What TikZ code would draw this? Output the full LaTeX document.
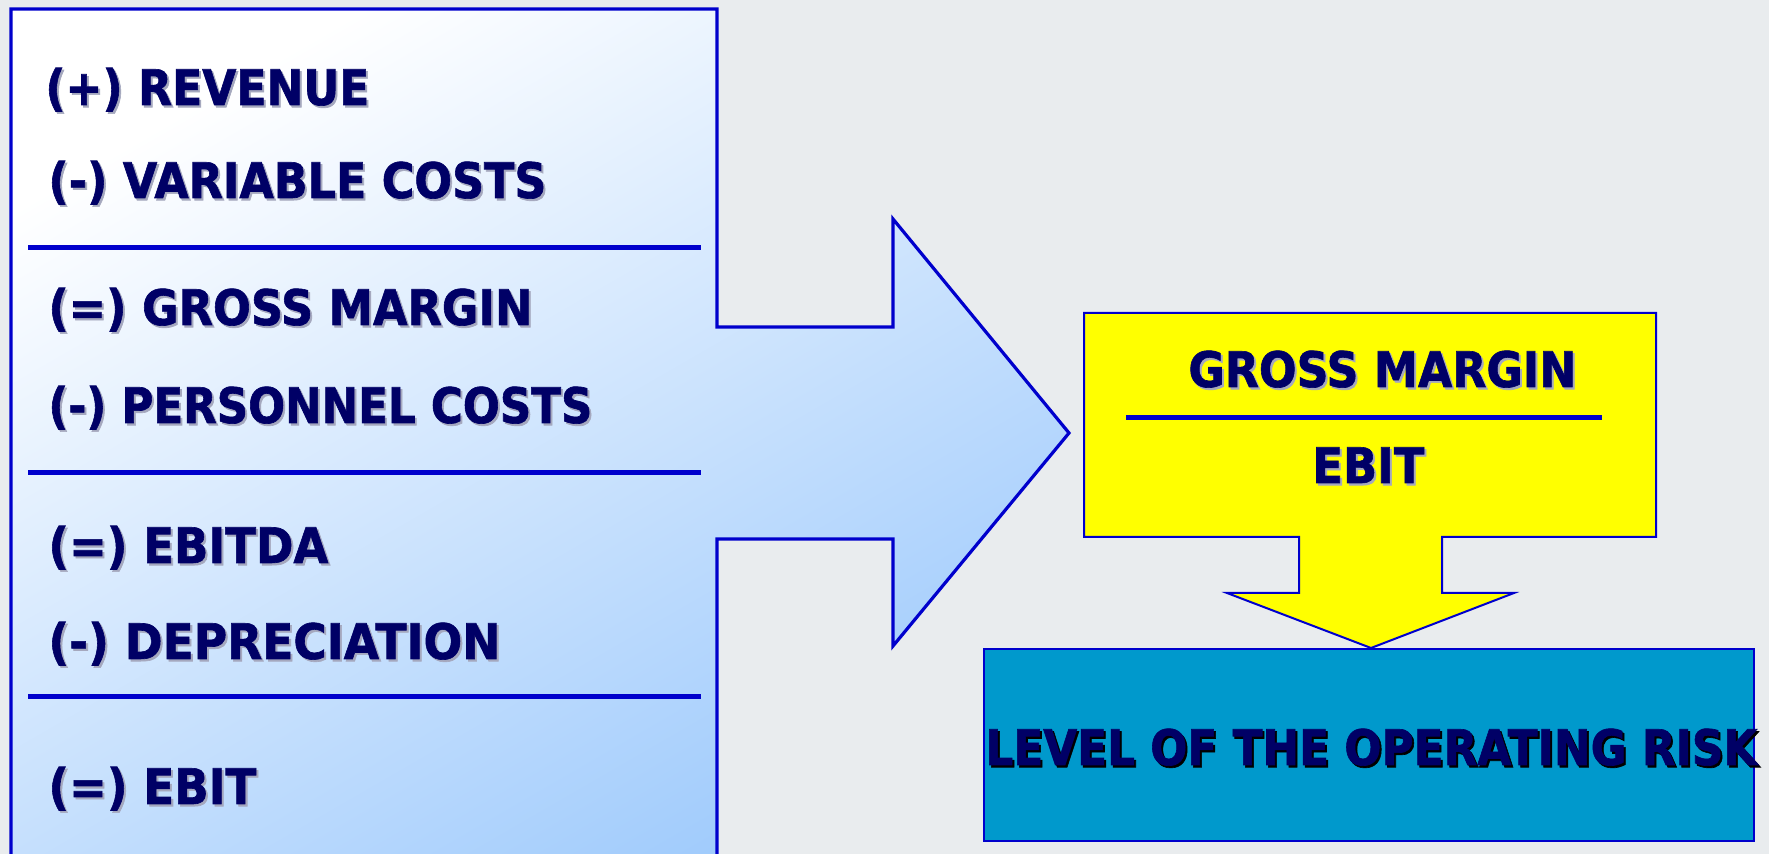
\documentclass[tikz,border=0pt]{standalone}
\usepackage{fontspec}
\usepackage{graphicx}
\newfontfamily\hfont{DejaVu Sans Bold}[FakeBold=1.3]
\definecolor{bg}{RGB}{233,236,238}
\definecolor{edge}{RGB}{0,0,204}
\definecolor{navy}{RGB}{0,0,102}
\definecolor{lightblue}{RGB}{158,202,252}
\definecolor{yell}{RGB}{255,255,0}
\definecolor{riskblue}{RGB}{0,153,204}
\definecolor{shadowgray}{RGB}{165,168,190}
\newcommand\shadowtxt[3]{\resizebox{#1}{\height}{\rlap{\hspace{1.1pt}\raisebox{-1.1pt}{\textcolor{#2}{#3}}}#3}}
\tikzset{
  lbl/.style={anchor=base west, inner sep=0pt, text=navy, font=\hfont\fontsize{24.5pt}{28pt}\selectfont},
  sepline/.style={draw=edge, line width=2.5pt},
  outline/.style={draw=edge, line width=1pt}
}
\begin{document}
\begin{tikzpicture}[x=0.5pt, y=-0.5pt]
\fill[bg] (0,0) rectangle (1769,854);
\useasboundingbox (0,0) rectangle (1769,854);
\begin{scope}
\clip (0,0) rectangle (1769,854);
% left statement box with right arrow
\path[draw=edge, line width=1.6pt, top color=white, bottom color=lightblue, shading angle=30]
  (11,9) -- (717,9) -- (717,327) -- (893,327) -- (893,219) -- (1069,433)
  -- (893,646) -- (893,539) -- (717,539) -- (717,880) -- (11,880) -- cycle;
\draw[sepline] (28,248) -- (701,248);
\draw[sepline] (28,473) -- (701,473);
\draw[sepline] (28,697) -- (701,697);
\node[lbl] (rev) at (45,105) {\shadowtxt{162pt}{shadowgray}{(+) REVENUE}};
\node[lbl] (var) at (48,198) {\shadowtxt{249pt}{shadowgray}{(-) VARIABLE COSTS}};
\node[lbl] (gm) at (48,325) {\shadowtxt{242pt}{shadowgray}{(=) GROSS MARGIN}};
\node[lbl] (pers) at (48,423) {\shadowtxt{272pt}{shadowgray}{(-) PERSONNEL COSTS}};
\node[lbl] (ebitda) at (48,563) {\shadowtxt{140pt}{shadowgray}{(=) EBITDA}};
\node[lbl] (dep) at (48,659) {\shadowtxt{226pt}{shadowgray}{(-) DEPRECIATION}};
\node[lbl] (ebit) at (48,804) {\shadowtxt{104pt}{shadowgray}{(=) EBIT}};
% yellow callout
\path[outline, fill=yell]
  (1084,313) -- (1656,313) -- (1656,537) -- (1442,537) -- (1442,593) -- (1514,593)
  -- (1371,648) -- (1227,593) -- (1299,593) -- (1299,537) -- (1084,537) -- cycle;
\draw[sepline] (1126,418) -- (1602,418);
\node[lbl] (ratiogm) at (1188,387) {\shadowtxt{194pt}{shadowgray}{GROSS MARGIN}};
\node[lbl] (ratioebit) at (1312,483) {\shadowtxt{56pt}{shadowgray}{EBIT}};
% result box
\path[outline, fill=riskblue] (984,649) rectangle (1754,841);
\node[lbl] (risk) at (985,765) {\shadowtxt{386pt}{black}{LEVEL OF THE OPERATING RISK}};
\end{scope}
\end{tikzpicture}
\end{document}
